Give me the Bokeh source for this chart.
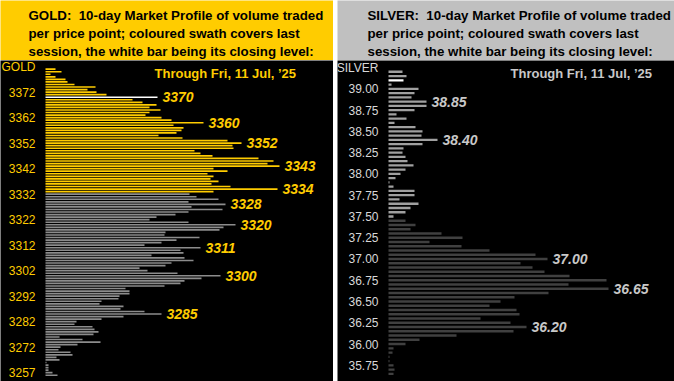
from bokeh.plotting import figure
from bokeh.layouts import row, column
from bokeh.models import Range1d, ColumnDataSource
from bokeh.embed import file_html
from bokeh.resources import INLINE
from bokeh.core.properties import value

# ---------------- GOLD data ----------------
gold_top_price = 3381          # highest price level shown (1-point bins, descending)
gold_volume = [
    10, 16, 5, 10, 20, 22, 29, 50, 42, 51, 61, 112, 87, 97, 111, 104, 115, 104, 100, 116,
    126, 158, 128, 138, 136, 131, 113, 137, 182, 196, 187, 188, 149, 155, 167, 213, 228, 222, 234, 168,
    182, 162, 168, 165, 173, 166, 185, 232, 168, 144, 151, 173, 143, 180, 146, 177, 143, 130, 111, 104,
    143, 190, 178, 174, 120, 119, 154, 131, 116, 99, 155, 135, 138, 106, 139, 148, 126, 120, 94, 102,
    132, 175, 156, 139, 135, 119, 80, 84, 84, 74, 73, 56, 54, 78, 75, 99, 116, 78, 56, 31,
    29, 47, 49, 53, 48, 14, 37, 55, 32, 15, 13, 25, 27, 11, 14, 1, 3, 3, 3, 7, 12,
]
gold_session_low, gold_session_high = 3333, 3381
gold_close = 3370
gold_peak_labels = [3370, 3360, 3352, 3343, 3334, 3328, 3320, 3311, 3300, 3285]
gold_tick_values = [3382, 3372, 3362, 3352, 3342, 3332, 3322, 3312, 3302, 3292, 3282, 3272, 3262]
gold_tick_labels = ["GOLD", "3372", "3362", "3352", "3342", "3332", "3322", "3312", "3302",
                    "3292", "3282", "3272", "3257"]

# ---------------- SILVER data ----------------
silver_top_price = 39.20       # 0.05 bins, descending
silver_step = 0.05
silver_volume = [
    14, 18, 15, 3, 30, 26, 23, 38, 38, 26, 8, 18, 6, 27, 34, 33, 49, 34, 15, 14,
    17, 19, 25, 17, 12, 7, 1, 5, 26, 26, 11, 30, 22, 17, 5, 17, 27, 22, 53, 74,
    41, 73, 101, 147, 159, 132, 144, 156, 181, 218, 180, 220, 160, 126, 112, 101, 128, 131, 92, 122,
    138, 125, 68, 31, 17, 5, 4, 1, 1, 5, 6, 5,
]
silver_session_low, silver_session_high = 37.50, 39.20
silver_close = 39.10
silver_peak_labels = [38.85, 38.40, 37.00, 36.65, 36.20]
silver_tick_values = [39.25, 39.0, 38.75, 38.5, 38.25, 38.0, 37.75, 37.5, 37.25, 37.0,
                      36.75, 36.5, 36.25, 36.0, 35.75]
silver_tick_labels = ["SILVER", "39.00", "38.75", "38.50", "38.25", "38.00", "37.75", "37.50",
                      "37.25", "37.00", "36.75", "36.50", "36.25", "36.00", "35.75"]

through_text = "Through Fri, 11 Jul, \u201925"
gold_title = ["GOLD:\u00a0 10-day Market Profile of volume traded",
              "per price point; coloured swath covers last",
              "session, the white bar being its closing level:"]
silver_title = ["SILVER:\u00a0 10-day Market Profile of volume traded",
                "per price point; coloured swath covers last",
                "session, the white bar being its closing level:"]

FONT = value("Liberation Sans")
H_HEAD = 60
H_CHART = 321
W_GOLD = 333
W_SILVER = 337


def header(width, bg, lines, x0):
    # 1 data unit = 1 pixel, y measured upward from the header's bottom
    p = figure(width=width, height=H_HEAD,
               x_range=Range1d(0, width), y_range=Range1d(0, H_HEAD),
               x_axis_type=None, y_axis_type=None, toolbar_location=None, output_backend="svg",
               min_border=0, background_fill_color=bg, border_fill_color=bg, outline_line_color=None)
    p.xgrid.visible = False
    p.ygrid.visible = False
    p.text(x=[x0] * 3, y=[H_HEAD - 15.3, H_HEAD - 33.3, H_HEAD - 51.3], text=lines,
           text_font=FONT, text_font_style="bold", text_font_size="13.3px",
           text_baseline="alphabetic", text_align="left", text_color="black")
    return p


def chart(width, prices, vols, lo, hi, close, sess_color, rest_color, bar_h,
          yr, xr, ticks, tick_labels, tick_color, peaks, label_color, through_xy, fmt):
    colors = []
    for pr in prices:
        if abs(pr - close) < 1e-6:
            colors.append("white")
        elif lo - 1e-6 <= pr <= hi + 1e-6:
            colors.append(sess_color)
        else:
            colors.append(rest_color)
    src = ColumnDataSource(dict(price=prices, vol=vols, color=colors))
    p = figure(width=width, height=H_CHART, x_range=Range1d(*xr), y_range=Range1d(*yr),
               x_axis_type=None, y_axis_type=None, toolbar_location=None, output_backend="svg",
               min_border=0, background_fill_color="black", border_fill_color="black",
               outline_line_color=None)
    p.xgrid.visible = False
    p.ygrid.visible = False
    p.hbar(y="price", left=0, right="vol", height=bar_h, fill_color="color", line_color=None, source=src)

    # price-scale labels, right-aligned just left of the bars' base
    p.text(x=[0] * len(ticks), y=ticks, text=tick_labels, x_offset=-10,
           text_font=FONT, text_font_size="12px", text_baseline="middle", text_align="right",
           text_color=tick_color)

    lookup = {round(pr, 3): v for pr, v in zip(prices, vols)}
    lx = [lookup[round(pk, 3)] for pk in peaks]
    p.text(x=lx, y=peaks, text=[fmt(pk) for pk in peaks], x_offset=5,
           text_font=FONT, text_font_style="bold italic", text_font_size="14px",
           text_baseline="middle", text_align="left", text_color=label_color)
    p.text(x=[through_xy[0]], y=[through_xy[1]], text=[through_text],
           text_font=FONT, text_font_style="bold", text_font_size="13px",
           text_baseline="middle", text_align="left", text_color=label_color)
    return p


gold_prices = [gold_top_price - i for i in range(len(gold_volume))]
silver_prices = [round(silver_top_price - i * silver_step, 2) for i in range(len(silver_volume))]

g_head = header(W_GOLD, "#FFCC00", gold_title, 28)
s_head = header(W_SILVER, "#C0C0C0", silver_title, 30)

g_chart = chart(W_GOLD, gold_prices, gold_volume, gold_session_low, gold_session_high, gold_close,
                "#FFCC00", "#8C8C8C", 0.65, (3258.55, 3384.4), (-45, 288),
                gold_tick_values, gold_tick_labels, "#FFCC00", gold_peak_labels, "#FFCC00",
                (109, 3379.3), lambda v: f"{v:d}")
s_chart = chart(W_SILVER, silver_prices, silver_volume, silver_session_low, silver_session_high,
                silver_close, "#A0A0A0", "#404040", 0.028, (35.56, 39.333), (-51, 286),
                silver_tick_values, silver_tick_labels, "#D8D8D8", silver_peak_labels, "#C8C8C8",
                (122, 39.18), lambda v: f"{v:.2f}")

layout = row(column(g_head, g_chart, spacing=0), column(s_head, s_chart, spacing=0), spacing=4)

open("out.html", "w").write(file_html(layout, INLINE))
